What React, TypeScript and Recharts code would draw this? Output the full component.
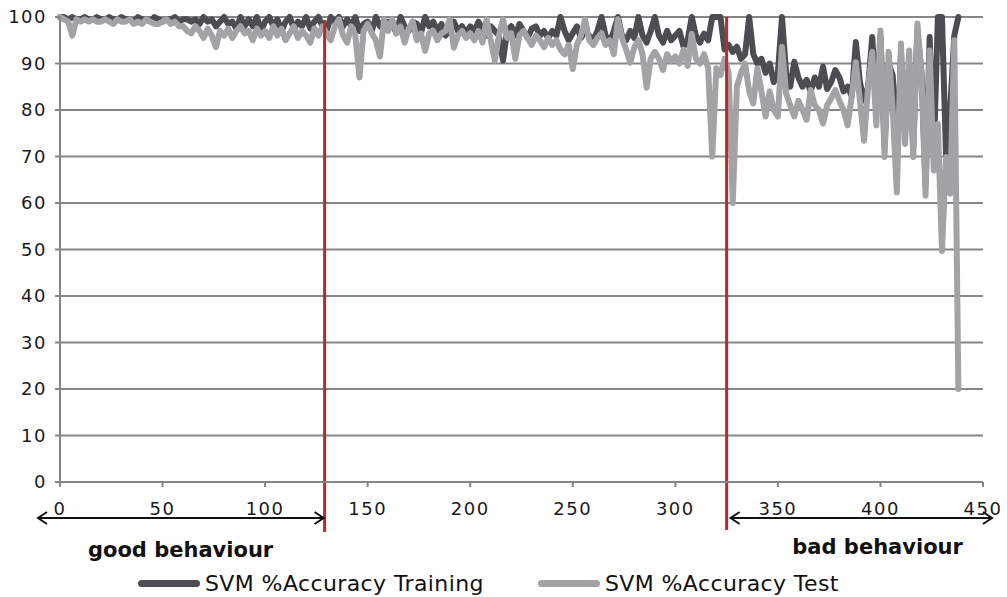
import { LineChart, Line, XAxis, YAxis, CartesianGrid, ReferenceLine, Legend } from "recharts";

const FONT = "'DejaVu Sans', Verdana, sans-serif";
const RED = "#bd2a2a";
const TRAIN_COLOR = "#4d4d51";
const TEST_COLOR = "#a3a3a6";
const GRID = "#868686";

// one sample every STEP units along x
const STEP = 2;

const TRAIN = [
  100, 100, 99.5, 100, 99.5, 99.5, 100, 99.5, 99.5, 100,
  99.5, 99.5, 100, 99.5, 99.5, 100, 99.5, 99.5, 99, 100,
  99.5, 99.5, 99, 100, 99.5, 99, 99.5, 99.5, 100, 99,
  99.5, 99.5, 99, 99.5, 98.5, 100, 99, 99.5, 98, 99,
  100, 98.5, 99, 97.5, 100, 98, 99.5, 98, 100, 97,
  99, 100, 98, 99.5, 97, 99, 100, 97.5, 99, 98,
  100, 97.5, 99, 100, 98, 97, 100, 99, 100, 98,
  99.5, 98, 100, 97, 98.5, 99, 97, 100, 98, 97.5,
  99, 98.5, 96.5, 100, 98, 97, 99, 98.5, 96.5, 100,
  98, 99, 97, 98.5, 96, 97.5, 99, 97, 98, 96.5,
  98, 97, 99, 97.5, 96, 98, 97, 96, 90.6, 97,
  98, 96, 98.5, 97, 95.5, 97.5, 98, 96, 97, 95.5,
  97, 96, 100, 97, 95, 96.5, 98, 95.5, 97, 96,
  95, 97, 100, 96, 94.5, 97, 100, 96, 95, 97,
  95.5, 100, 96, 94.5, 97, 100, 96, 94.5, 97, 95,
  96, 97, 93.6, 95, 100, 96, 94.5, 96.4, 95, 100,
  100, 100, 93, 94, 92.5, 93.6, 91, 92, 100, 92,
  90, 91, 88, 90, 86, 88, 100, 87.9, 85, 90.4,
  87, 85, 86.5, 84, 87, 85, 89.3, 84.5, 86, 88.6,
  87, 84, 85, 83, 94.6, 86, 82, 85, 95.7, 80,
  96, 72, 90, 87.4, 70, 92, 75, 90, 72, 97,
  88, 64, 95.7, 70, 100, 100, 70, 80, 96, 100,
];

const TEST = [
  100, 99.5, 99, 96, 99.5, 99, 99.5, 99, 99.5, 99,
  99, 99.5, 99, 98.5, 99.5, 99, 99, 99.5, 98.5, 99,
  98.5, 99.5, 99, 98.5, 98.5, 99, 99.5, 98.5, 99, 98,
  98, 97, 96.5, 98, 97, 95.5, 97.5, 96, 93.5, 97,
  96, 97.5, 95.5, 97, 98, 96.5, 97, 95, 97.5, 96,
  97, 95.5, 98, 96, 97.5, 95, 96.5, 98, 95.5, 97,
  96, 94.5, 97.5, 96, 98, 96.5, 95, 98, 99.5, 96,
  94.5, 98, 96, 87, 97, 98.5, 96.5, 95, 91.5, 99.5,
  97, 99.5, 96.5, 98, 94.5, 97.5, 99, 95, 96.5, 92.7,
  96.5, 97, 95, 96.5, 97, 99.5, 93.4, 96, 97, 95.5,
  96.5, 95, 97, 94.5, 99.5, 95, 90.6, 96, 99.5, 95.5,
  96.5, 91, 96, 97, 95.5, 94, 96, 95, 93.5, 95.5,
  94, 95, 93, 92, 94, 88.8, 94, 96, 99.5, 95,
  94, 95.5, 96.5, 94, 95, 92, 99.5, 95.5, 93, 90.2,
  93.5, 95, 92, 84.8, 91, 92.5, 91, 88.6, 92, 90.5,
  91.5, 90, 93, 89.5, 96.4, 91, 90, 92, 89, 70,
  89, 87.5, 91, 88, 60, 85, 88, 90, 84, 81.4,
  89, 84, 78.6, 84, 80, 78.6, 93.6, 83.6, 81, 78.6,
  82, 80, 77.9, 84.3, 81, 80, 77.1, 81, 82.5, 84.3,
  82, 80, 76.7, 83, 90.3, 82, 73.4, 85, 92.5, 76.7,
  97.1, 69.9, 92.5, 80, 62.3, 94.3, 72.7, 92.8, 69.9, 98.6,
  87.8, 61.6, 92.8, 67, 77, 49.7, 69.9, 62, 95, 20,
];

const X_TICKS = [0, 50, 100, 150, 200, 250, 300, 350, 400, 450];
const Y_TICKS = [0, 10, 20, 30, 40, 50, 60, 70, 80, 90, 100];

// where the behaviour changes
const GOOD_END = 129;
const BAD_START = 325;

const SERIES = [
  { key: "train", name: "SVM %Accuracy Training", color: TRAIN_COLOR },
  { key: "test", name: "SVM %Accuracy Test", color: TEST_COLOR },
];

const rows = TRAIN.map((v, i) => ({ x: i * STEP, train: v, test: TEST[i] }));

function Arrow({ from, to, y }: { from: number; to: number; y: number }) {
  return (
    <g stroke="#111" strokeWidth={2} fill="none">
      <line x1={from} y1={y} x2={to} y2={y} />
      <path d={`M${from + 9},${y - 6} L${from},${y} L${from + 9},${y + 6}`} />
      <path d={`M${to - 9},${y - 6} L${to},${y} L${to - 9},${y + 6}`} />
    </g>
  );
}

function GoodMark(p: any) {
  const x = p.x1;
  const top = Math.min(p.y1, p.y2);
  const bottom = Math.max(p.y1, p.y2);
  return (
    <g>
      <line x1={x} y1={top + 3} x2={x} y2={bottom + 50} stroke={RED} strokeWidth={3} />
      <Arrow from={38} to={x - 1} y={bottom + 36} />
      <text x={x - 144} y={bottom + 75} textAnchor="middle" fontFamily={FONT} fontWeight="bold" fontSize={21} fill="#111">
        good behaviour
      </text>
    </g>
  );
}

function BadMark(p: any) {
  const x = p.x1;
  const top = Math.min(p.y1, p.y2);
  const bottom = Math.max(p.y1, p.y2);
  return (
    <g>
      <line x1={x} y1={top} x2={x} y2={bottom + 48} stroke={RED} strokeWidth={3} />
      <Arrow from={x + 4} to={992} y={bottom + 36} />
      <text x={x + 151} y={bottom + 72} textAnchor="middle" fontFamily={FONT} fontWeight="bold" fontSize={21} fill="#111">
        bad behaviour
      </text>
    </g>
  );
}

function LegendRow() {
  return (
    <div style={{
      display: "flex", gap: 54, paddingLeft: 138,
      fontFamily: FONT, fontSize: 22, letterSpacing: 0.4, color: "#111",
    }}>
      {SERIES.map((s) => (
        <div key={s.key} style={{ display: "flex", alignItems: "center" }}>
          <span style={{ display: "inline-block", width: 62, height: 7, borderRadius: 4, background: s.color, marginRight: 5 }} />
          {s.name}
        </div>
      ))}
    </div>
  );
}

export default function App() {
  return (
    <div style={{ position: "absolute", left: 0, top: 0, background: "#fff" }}>
      <LineChart width={1007} height={597} data={rows} margin={{ top: 17, right: 24, bottom: 55, left: 0 }}>
        <CartesianGrid vertical={false} stroke={GRID} strokeWidth={2} />
        <XAxis
          dataKey="x" type="number" domain={[0, 450]} ticks={X_TICKS} height={30}
          stroke={GRID} strokeWidth={2} tickSize={5} tickMargin={15}
          tick={{ fontFamily: FONT, fontSize: 18, letterSpacing: 1.5, fill: "#1a1a1a" }}
        />
        <YAxis
          domain={[0, 100]} ticks={Y_TICKS} width={60} interval={0}
          stroke={GRID} strokeWidth={2} tickSize={5} tickMargin={8}
          tick={{ fontFamily: FONT, fontSize: 18, letterSpacing: 1.5, fill: "#1a1a1a" }}
        />
        {SERIES.map((s) => (
          <Line
            key={s.key} dataKey={s.key} name={s.name} type="linear" stroke={s.color}
            strokeWidth={6} dot={false} strokeLinejoin="round" strokeLinecap="round" isAnimationActive={false}
          />
        ))}
        <ReferenceLine x={GOOD_END} shape={GoodMark} />
        <ReferenceLine x={BAD_START} shape={BadMark} />
        <Legend content={() => <LegendRow />} wrapperStyle={{ top: 571, left: 0, width: 1007, height: 30 }} />
      </LineChart>
    </div>
  );
}
